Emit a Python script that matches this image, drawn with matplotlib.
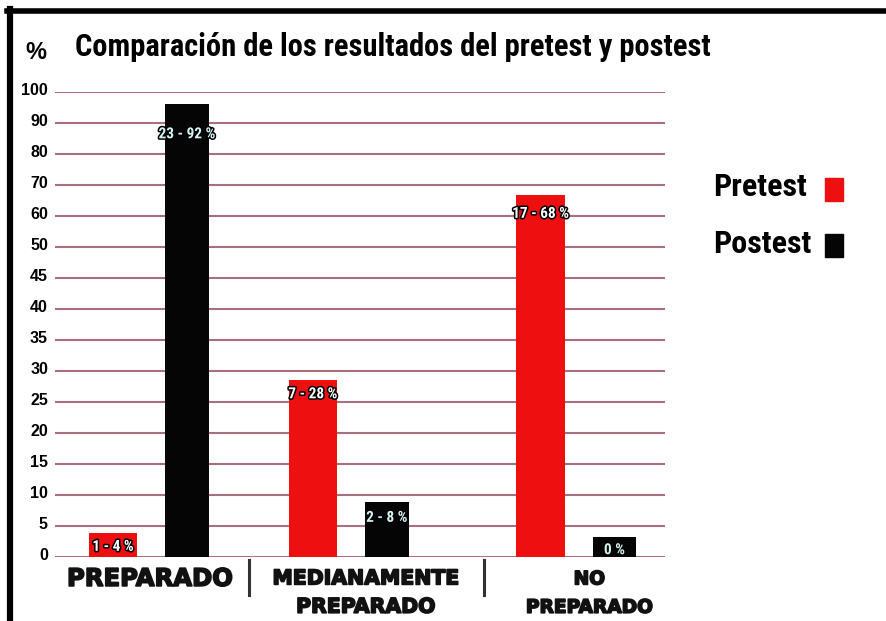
import numpy as np
import matplotlib.pyplot as plt
import matplotlib.patheffects as pe
import matplotlib.transforms as mtransforms
from matplotlib.lines import Line2D
from matplotlib.patches import Rectangle

# data
categories = ['PREPARADO', 'MEDIANAMENTE\nPREPARADO', 'NO\nPREPARADO']
pre_counts = [1, 7, 17]
pre_pct = [4, 28, 68]
post_counts = [23, 2, 0]
post_pct = [92, 8, 0]
# bar heights as drawn in the picture (the 0 % bar is drawn with a small height)
pre_heights = [3.9, 28.5, 66.8]
post_heights = [96, 8.9, 3.2]
ytick_values = [0, 5, 10, 15, 20, 25, 30, 35, 40, 45, 50, 60, 70, 80, 90, 100]

red = '#ee1010'
black = '#050505'
grid_col = '#a8707e'
narrow = ['Roboto Condensed', 'Liberation Sans', 'DejaVu Sans']

fig = plt.figure(figsize=(8.86, 6.21), dpi=100)
ax = fig.add_axes([0.062, 0.103, 0.688, 0.749])

# uneven axis: 0-50 in steps of 5, then 50-100 in steps of 10, equally spaced
fwd = lambda v: np.interp(v, [0, 50, 100], [0, 10, 15])
inv = lambda u: np.interp(u, [0, 10, 15], [0, 50, 100])
ax.set_yscale('function', functions=(fwd, inv))
ax.set_ylim(0, 100)

x = np.array([0, 0.935, 2.0])
off = 0.173
ax.bar(x - off, pre_heights, width=0.225, color=red, zorder=3)
ax.bar(x + off, post_heights, width=0.205, color=black, zorder=3)
ax.set_xlim(-0.444, 2.407)

ax.set_yticks(ytick_values)
ax.set_yticklabels([str(v) for v in ytick_values], fontsize=11.5, fontweight='bold',
                   family='Liberation Sans')
ax.tick_params(axis='y', length=0, pad=5)
shift = mtransforms.ScaledTranslation(0, 3 / 100, fig.dpi_scale_trans)
for t in ax.get_yticklabels():
    t.set_transform(t.get_transform() + shift)
ax.set_xticks([])
ax.yaxis.grid(True, color=grid_col, linewidth=1.5, zorder=0)
for s in ax.spines.values():
    s.set_visible(False)

# labels inside bars (offsets below the bar top, in pixels as in the picture)
pre_lbl_drop = [14, 14, 19]
post_lbl_drop = [30, 16, 13]
stroke = [pe.withStroke(linewidth=2.2, foreground='black')]
for i in range(3):
    ax.annotate(f'{pre_counts[i]} - {pre_pct[i]} %', (x[i] - off, pre_heights[i]),
                xytext=(0, -pre_lbl_drop[i] * 0.72), textcoords='offset points',
                ha='center', va='center', fontsize=11, fontweight='bold', color='white',
                family=narrow, path_effects=stroke, zorder=4)
    lbl = f'{post_counts[i]} - {post_pct[i]} %' if post_counts[i] else '0 %'
    ax.annotate(lbl, (x[i] + off, post_heights[i]),
                xytext=(0, -post_lbl_drop[i] * 0.72), textcoords='offset points',
                ha='center', va='center', fontsize=11, fontweight='bold', color='#d4f4f4',
                family=narrow, path_effects=stroke, zorder=4)

# category labels under the axis, one text per line
label_x = [0, 1.009, 2.056]
label_size = [17.5, 14.7, 13.4]
line_y = [-0.047, -0.108]
heavy = [pe.withStroke(linewidth=1.2, foreground='#111111')]
for i, c in enumerate(categories):
    for j, part in enumerate(c.split('\n')):
        ax.text(label_x[i], line_y[j], part,
                transform=ax.get_xaxis_transform(), ha='center', va='center',
                fontsize=label_size[i], fontweight='heavy', color='#111111',
                path_effects=heavy)
for xs in [0.463, 1.565]:
    ax.plot([xs, xs], [-0.007, -0.082], transform=ax.get_xaxis_transform(),
            color='#333333', linewidth=2.2, clip_on=False)

# title and % label
fig.text(0.085, 0.924, 'Comparación de los resultados del pretest y postest',
         fontsize=22, fontweight='bold', family=narrow, va='center', ha='left')
fig.text(0.041, 0.916, '%', fontsize=17, fontweight='bold', va='center', ha='center',
         family='Liberation Sans')

# legend on the right
fig.text(0.805, 0.699, 'Pretest', fontsize=23, fontweight='bold', family=narrow, va='center')
fig.text(0.805, 0.607, 'Postest', fontsize=23, fontweight='bold', family=narrow, va='center')
fig.patches.append(Rectangle((0.931, 0.676), 0.020, 0.037, transform=fig.transFigure,
                             color=red, figure=fig))
fig.patches.append(Rectangle((0.931, 0.586), 0.020, 0.037, transform=fig.transFigure,
                             color=black, figure=fig))

# black frame on top and left
fig.add_artist(Line2D([0.008, 1.0], [0.983, 0.983], transform=fig.transFigure,
                      color='black', linewidth=4))
fig.add_artist(Line2D([0.011, 0.011], [0.0, 0.985], transform=fig.transFigure,
                      color='black', linewidth=4.5))

fig.savefig('out.png', dpi=100)
